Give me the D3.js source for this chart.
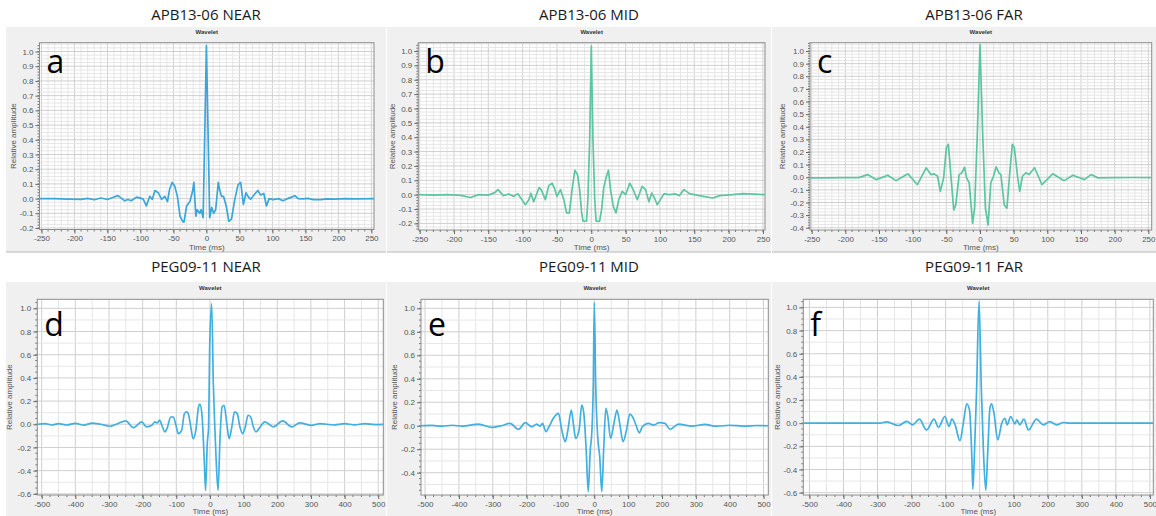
<!DOCTYPE html>
<html><head><meta charset="utf-8">
<script src="https://cdn.jsdelivr.net/npm/d3@7"></script>
<style>body{margin:0;background:#fff}svg{display:block}</style>
</head><body><svg id="c" width="1156" height="516"></svg>
<script>
// ---------- DATA (time ms, relative amplitude) ----------
const nearA = [[-253,0],[-230,0],[-210,-0.003],[-190,-0.005],[-180,0.002],[-170,-0.008],[-160,0.004],[-150,-0.006],[-142,0.008],[-134,0.02],[-128,0.0],[-124,-0.015],[-119,-0.006],[-114,-0.015],[-106,0.01],[-96,-0.002],[-91,-0.05],[-86,0.015],[-82,-0.005],[-78,0.055],[-73,0.04],[-68,-0.005],[-63,0.015],[-59,-0.02],[-56,0.06],[-52,0.11],[-48,0.085],[-44,0.015],[-40,-0.12],[-36,-0.155],[-34,-0.16],[-30,-0.05],[-25,-0.02],[-21,0.05],[-19,0.11],[-16,-0.12],[-14,-0.075],[-10,-0.1],[-8,-0.075],[-5,-0.13],[-2.5,0.45],[0,1.04],[2.5,0.45],[5,-0.13],[8,-0.06],[11,-0.1],[14,-0.075],[18,0.11],[20,0.06],[23,0.015],[26,0.015],[30,-0.05],[34,-0.155],[38,-0.14],[43,-0.005],[48,0.095],[52,0.11],[56,-0.04],[60,0.04],[63,0.015],[67,-0.005],[73,0.03],[78,0.055],[82,0.025],[87,0.035],[91,-0.05],[95,0.0],[101,-0.007],[109,0.0],[116,-0.014],[122,-0.002],[129,0.01],[134,0.02],[139,0.0],[146,-0.002],[154,0.002],[162,-0.007],[174,-0.007],[182,-0.002],[195,-0.004],[210,0],[230,-0.002],[254,0]];
const midB = [[-252,0],[-230,-0.003],[-210,0.0],[-190,-0.005],[-176,-0.02],[-164,0.0],[-150,-0.003],[-140,0.016],[-136,0.035],[-128,-0.007],[-120,0.005],[-113,-0.012],[-107,0.007],[-96,-0.07],[-91,-0.035],[-88,0.01],[-84,-0.05],[-76,0.05],[-73,0.035],[-67,-0.035],[-62,0.063],[-57,0.08],[-53,0.035],[-50,-0.012],[-45,0.035],[-40,-0.035],[-36,-0.127],[-32,-0.127],[-28,0.035],[-24,0.17],[-20,0.139],[-17,0.035],[-14,-0.127],[-12,-0.185],[-7,-0.185],[-5,-0.035],[-2.4,0.38],[0,1.035],[2.4,0.38],[5,-0.035],[7,-0.185],[12,-0.185],[15,-0.104],[18,0.046],[22,0.127],[25,0.17],[28,0.035],[32,-0.081],[36,-0.127],[40,-0.035],[45,0.023],[50,0.0],[56,0.08],[61,0.035],[67,-0.035],[74,0.058],[79,0.035],[84,-0.05],[88,0.012],[92,-0.023],[96,-0.07],[106,0.007],[113,0.0],[123,0.005],[128,-0.007],[135,0.035],[143,0.007],[157,-0.007],[177,-0.023],[187,-0.007],[206,0],[221,0.007],[253,0]];
const farC = [[-252.5,-0.005],[-230,-0.005],[-200,-0.003],[-180,-0.003],[-167,0.021],[-154,-0.019],[-137,0.016],[-125,-0.027],[-107,0.027],[-93,-0.059],[-80,0.075],[-73,0.021],[-68,0.027],[-63,0.008],[-59,-0.112],[-54,-0.005],[-50,0.235],[-47,0.261],[-43,-0.005],[-39,-0.259],[-36,-0.219],[-31,0.021],[-27,0.035],[-23,0.08],[-20,-0.005],[-16,-0.045],[-11,-0.365],[-8,-0.245],[-4,0.341],[0,1.05],[4,0.341],[8,-0.245],[12,-0.379],[16,-0.045],[20,0.008],[24,0.083],[28,0.035],[31,0.021],[36,-0.219],[40,-0.245],[44,0.021],[48,0.261],[51,0.235],[56,-0.005],[59,-0.112],[63,0.008],[68,0.035],[73,0.021],[81,0.075],[92,-0.059],[108,0.027],[125,-0.027],[138,0.016],[155,-0.019],[165,0.021],[175,-0.005],[200,-0.003],[230,-0.002],[255,-0.003]];
const nearD = [[-513,0.0],[-490,0.006],[-470,-0.006],[-450,0.005],[-425,-0.006],[-400,0.008],[-375,-0.008],[-350,0.01],[-325,0.0],[-297,-0.017],[-275,0.005],[-250,0.029],[-228,-0.029],[-203,0.02],[-188,-0.023],[-173,-0.009],[-163,0.02],[-156,0.012],[-150,0.035],[-141,-0.023],[-134,-0.066],[-126,-0.023],[-117,0.063],[-109,0.063],[-101,-0.009],[-94,-0.081],[-84,-0.052],[-76,0.092],[-69,0.107],[-63,0.078],[-57,-0.023],[-50,-0.124],[-42,-0.052],[-34,0.15],[-30,0.173],[-24,0.092],[-17,-0.311],[-13,-0.57],[-8,-0.167],[-4,-0.023],[-1,0.64],[5,1.04],[10,0.35],[14,0.006],[18,-0.282],[24,-0.57],[30,-0.11],[36,0.15],[42,0.164],[50,0.006],[57,-0.124],[65,-0.023],[73,0.107],[81,0.092],[89,-0.023],[97,-0.081],[105,-0.023],[113,0.078],[121,0.063],[129,-0.023],[137,-0.066],[149,-0.023],[163,0.02],[176,0.0],[188,-0.023],[216,0.029],[243,-0.023],[267,0.012],[302,-0.009],[327,0.006],[366,-0.006],[400,0.005],[430,-0.005],[460,0.005],[490,-0.003],[515,0]];
const midE = [[-512,0],[-480,0.003],[-450,-0.004],[-420,0.004],[-390,-0.004],[-342,0.014],[-303,-0.014],[-275,0.0],[-249,0.02],[-224,-0.031],[-204,0.026],[-185,-0.009],[-170,0.014],[-160,-0.003],[-153,0.02],[-143,-0.051],[-134,-0.009],[-121,0.063],[-106,0.105],[-96,-0.037],[-86,-0.136],[-78,-0.037],[-68,0.134],[-62,0.02],[-55,-0.108],[-45,-0.037],[-37,0.176],[-31,0.105],[-24,-0.207],[-18,-0.562],[-12,-0.207],[-7,-0.037],[-3,0.361],[0,1.05],[4,0.361],[10,-0.094],[16,-0.264],[22,-0.562],[28,-0.179],[34,0.148],[40,0.077],[48,-0.108],[58,0.02],[67,0.134],[75,0.02],[85,-0.136],[95,-0.037],[105,0.099],[113,0.077],[123,0.006],[133,-0.06],[142,-0.009],[160,0.02],[175,0.006],[192,0.026],[209,0.02],[224,-0.031],[249,0.014],[288,-0.003],[327,0.011],[360,-0.004],[400,0.004],[440,-0.003],[480,0.002],[514,0]];
const farF = [[-518,0],[-400,0],[-320,0],[-293,0.0],[-273,0.012],[-239,-0.02],[-214,0.015],[-197,-0.014],[-177,0.035],[-156,-0.058],[-134,0.035],[-121,-0.035],[-102,0.058],[-90,-0.029],[-82,0.035],[-72,-0.014],[-58,-0.151],[-48,0.0],[-38,0.168],[-30,0.116],[-23,-0.29],[-20,-0.571],[-15,-0.232],[-9,0.29],[-2,1.05],[5,0.29],[11,-0.232],[18,-0.58],[24,-0.232],[30,0.128],[35,0.168],[42,0.087],[53,-0.145],[65,0.0],[74,0.043],[81,-0.014],[91,0.058],[104,-0.006],[109,0.029],[118,-0.014],[130,0.035],[143,-0.058],[167,0.035],[187,-0.014],[206,0.014],[226,-0.014],[246,0.006],[265,0],[300,0],[400,0],[510,0]];

const titles = ["APB13-06 NEAR","APB13-06 MID","APB13-06 FAR","PEG09-11 NEAR","PEG09-11 MID","PEG09-11 FAR"];
const letters = ["a","b","c","d","e","f"];
const series = [nearA, midB, farC, nearD, midE, farF];
const xTicksTop = [-250,-200,-150,-100,-50,0,50,100,150,200,250];
const xTicksBottom = [-500,-400,-300,-200,-100,0,100,200,300,400,500];
const yTicksAB = [-0.2,-0.1,0,0.1,0.2,0.3,0.4,0.5,0.6,0.7,0.8,0.9,1.0];
const yTicksC = [-0.4,-0.3,-0.2,-0.1,0,0.1,0.2,0.3,0.4,0.5,0.6,0.7,0.8,0.9,1.0];
const yTicksDF = [-0.6,-0.4,-0.2,0,0.2,0.4,0.6,0.8,1.0];
const yTicksE = [-0.4,-0.2,0,0.2,0.4,0.6,0.8,1.0];
const xDomains = [[-253,254],[-252,253],[-252.5,255],[-513,515],[-512,514],[-518,510]];
const yDomains = [[-0.21,1.06],[-0.246,1.058],[-0.418,1.066],[-0.61,1.078],[-0.59,1.077],[-0.62,1.07]];
const colors = ["#3aa6dc","#5cc5a2","#5cc5a2","#40b0e0","#40b0e0","#40b0e0"];

// ---------- LAYOUT ----------
const bgs = [[6,27,380,225],[387,27,384,225],[772,27,384,225],[6,282,380,234],[387,282,384,234],[772,282,384,234]];
const plots = [[39.5,42.7,374,229.5],[418.3,42.7,765,230],[810,42.7,1151.7,230],[37.3,299.3,383.3,495],[421,299.3,768.3,495],[803.3,299.3,1153.3,495]];
const ylabX = [16,395,785,12,397,780];

const svg = d3.select("#c");
const fmt1 = v => (Math.abs(v) < 1e-9 ? 0 : v).toFixed(1);

for (let i = 0; i < 6; i++) {
  const top = i < 3;
  const [bx, by, bw, bh] = bgs[i];
  const [x0, y0, x1, y1] = plots[i];
  const g = svg.append("g");
  // title
  g.append("text").attr("x", bx + bw/2 + (top? 10 : 10)).attr("y", top ? 20 : 272)
    .attr("text-anchor","middle").attr("font-family","Open Sans, Noto Sans, sans-serif")
    .attr("font-size",15).attr("fill","#1a1a1a").text(titles[i]);
  // grey background
  g.append("rect").attr("x",bx).attr("y",by).attr("width",bw).attr("height",bh).attr("fill","#f0f0f0");
  if (top) g.append("line").attr("x1",bx).attr("x2",bx+bw).attr("y1",by+bh).attr("y2",by+bh).attr("stroke","#b8b8b8").attr("stroke-width",1.2);
  // Wavelet label
  g.append("text").attr("x",(x0+x1)/2).attr("y", y0 - 9).attr("text-anchor","middle")
    .attr("font-family","Liberation Sans, Arial, sans-serif").attr("font-size",6).attr("font-weight","bold").attr("fill","#333").text("Wavelet");

  const x = d3.scaleLinear().domain(xDomains[i]).range([x0, x1]);
  const y = d3.scaleLinear().domain(yDomains[i]).range([y1, y0]);

  g.append("rect").attr("x",x0).attr("y",y0).attr("width",x1-x0).attr("height",y1-y0).attr("fill","#fff");

  // grid
  const [xa, xb] = xDomains[i], [ya, yb] = yDomains[i];
  const xMinorStep = top ? 10 : 50, xMajorStep = top ? 50 : 100;
  const yMinorStep = top ? 0.025 : 0.1, yMajorStep = top ? 0.1 : 0.2;
  const xm = d3.range(Math.ceil(xa/xMinorStep)*xMinorStep, xb, xMinorStep);
  const ym = d3.range(Math.ceil(ya/yMinorStep)*yMinorStep, yb, yMinorStep);
  const isMajor = (v, s) => Math.abs(v/s - Math.round(v/s)) < 1e-6;
  g.append("g").selectAll("line").data(xm).join("line")
    .attr("x1", d=>x(d)).attr("x2", d=>x(d)).attr("y1", y0).attr("y2", y1)
    .attr("stroke", d => isMajor(d, xMajorStep) ? "#cfcfcf" : "#e6e6e6").attr("stroke-width", 1);
  g.append("g").selectAll("line").data(ym).join("line")
    .attr("y1", d=>y(d)).attr("y2", d=>y(d)).attr("x1", x0).attr("x2", x1)
    .attr("stroke", d => isMajor(d, yMajorStep) ? "#cfcfcf" : "#e6e6e6").attr("stroke-width", 1);

  // minor ticks
  const xMinT = d3.range(Math.ceil(xa/(top?10:25))*(top?10:25), xb, top?10:25);
  const yMinT = d3.range(Math.ceil(ya/(top?0.02:0.05))*(top?0.02:0.05), yb, top?0.02:0.05);
  g.append("g").selectAll("line").data(xMinT).join("line")
    .attr("x1",d=>x(d)).attr("x2",d=>x(d)).attr("y1",y1).attr("y2",y1+2).attr("stroke","#777");
  g.append("g").selectAll("line").data(yMinT).join("line")
    .attr("y1",d=>y(d)).attr("y2",d=>y(d)).attr("x1",x0).attr("x2",x0-2).attr("stroke","#777");

  // axes
  const xAxis = d3.axisBottom(x).tickValues(top ? xTicksTop : xTicksBottom).tickSize(4).tickPadding(2).tickFormat(d3.format("d"));
  const yt = i < 2 ? yTicksAB : i === 2 ? yTicksC : i === 4 ? yTicksE : yTicksDF;
  const yAxis = d3.axisLeft(y).tickValues(yt).tickSize(4).tickPadding(2).tickFormat(fmt1);
  const gx = g.append("g").attr("transform",`translate(0,${y1})`).call(xAxis);
  const gy = g.append("g").attr("transform",`translate(${x0},0)`).call(yAxis);
  [gx, gy].forEach(a => {
    a.select(".domain").remove();
    a.selectAll("line").attr("stroke","#666");
    a.selectAll("text").attr("font-family","Liberation Sans, Arial, sans-serif").attr("font-size",8).attr("fill","#555");
  });
  gx.selectAll("text").text(d => d3.format("d")(d).replace("−","-"));

  // border
  g.append("rect").attr("x",x0).attr("y",y0).attr("width",x1-x0).attr("height",y1-y0)
    .attr("fill","none").attr("stroke","#8c8c8c").attr("stroke-width",1);

  // clip + line
  const cid = "clip"+i;
  svg.append("clipPath").attr("id",cid).append("rect").attr("x",x0).attr("y",y0).attr("width",x1-x0).attr("height",y1-y0);
  const line = d3.line().x(d=>x(d[0])).y(d=>y(d[1])).curve(top ? d3.curveLinear : d3.curveMonotoneX);
  g.append("path").datum(series[i]).attr("d",line).attr("clip-path",`url(#${cid})`)
    .attr("fill","none").attr("stroke",colors[i]).attr("stroke-width",1.7).attr("stroke-linejoin","round");

  // axis titles
  g.append("text").attr("transform",`translate(${ylabX[i]},${(y0+y1)/2}) rotate(-90)`)
    .attr("text-anchor","middle").attr("font-family","Liberation Sans, Arial, sans-serif")
    .attr("font-size",8).attr("fill","#555").text("Relative amplitude");
  g.append("text").attr("x",(x0+x1)/2).attr("y", top ? 250 : 514).attr("text-anchor","middle")
    .attr("font-family","Liberation Sans, Arial, sans-serif").attr("font-size",8).attr("fill","#555").text("Time (ms)");

  // panel letter
  g.append("text").attr("x", x0 + 7).attr("y", top ? 73 : 336)
    .attr("font-family","Open Sans, Noto Sans, sans-serif").attr("font-size",32).attr("fill","#000").text(letters[i]);
}
</script></body></html>
